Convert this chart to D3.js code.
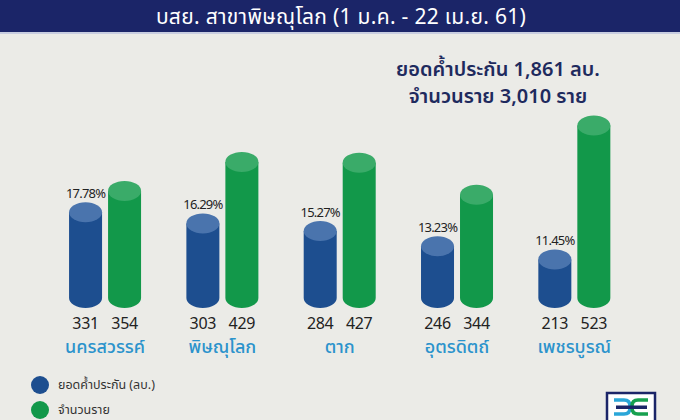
<!DOCTYPE html>
<html>
<head>
<meta charset="utf-8">
<script src="https://cdn.jsdelivr.net/npm/d3@7/dist/d3.min.js"></script>
<style>
  html, body { margin: 0; padding: 0; background: #ebebe7; }
  svg { display: block; font-family: "Noto Sans Thai", "Noto Sans", "Noto Sans CJK SC", sans-serif; }
</style>
</head>
<body>
<svg id="chart" width="680" height="420"></svg>
<script>
// ---- data ----
const categories = ["นครสวรรค์", "พิษณุโลก", "ตาก", "อุตรดิตถ์", "เพชรบูรณ์"];
const guaranteeValues = [331, 303, 284, 246, 213];   // ยอดค้ำประกัน (ลบ.)
const clientValues = [354, 429, 427, 344, 523];      // จำนวนราย
const shareLabels = ["17.78%", "16.29%", "15.27%", "13.23%", "11.45%"];
const seriesNames = ["ยอดค้ำประกัน (ลบ.)", "จำนวนราย"];
const titleText = "บสย. สาขาพิษณุโลก (1 ม.ค. - 22 เม.ย. 61)";
const summaryLines = ["ยอดค้ำประกัน 1,861 ลบ.", "จำนวนราย 3,010 ราย"];

// ---- styles ----
const W = 680, H = 420;
const bg = "#ebebe7";
const colors = [
  { body: "#1d4e8f", cap: "#4a74ad" },
  { body: "#12984a", cap: "#3aab69" }
];
const baseY = 308;
const ry = 10;

const svg = d3.select("#chart");
svg.append("rect").attr("width", W).attr("height", H).attr("fill", bg);

// header
svg.append("rect").attr("x", 0).attr("y", 0).attr("width", W).attr("height", 32).attr("fill", "#1b2568");
svg.append("rect").attr("x", 0).attr("y", 32).attr("width", W).attr("height", 2).attr("fill", "#c8cde0");
svg.append("text").attr("x", 341).attr("y", 24).attr("text-anchor", "middle")
  .attr("fill", "#ffffff").attr("font-size", 21).attr("letter-spacing", 0.3).text(titleText);

// summary
svg.append("g").selectAll("text").data(summaryLines).join("text")
  .attr("x", (d, i) => i === 0 ? 498 : 498)
  .attr("y", (d, i) => 76 + i * 27)
  .attr("text-anchor", "middle").attr("fill", "#1e2a5e")
  .attr("font-size", 20).attr("font-weight", 600).text(d => d);

// scales
const x0 = d3.scaleBand().domain(categories).range([46.4, 633]).padding(0);
const x1 = d3.scaleBand().domain([0, 1]).range([-36, 36]).paddingInner(0.154).paddingOuter(0);
const yBlue = d3.scaleLinear().domain([0, 600]).range([baseY + 26.6, baseY + 26.6 - 240]);
const yGreen = d3.scaleLinear().domain([0, 600]).range([baseY + 9.9, baseY + 9.9 - 232.2]);

const rows = categories.map((c, i) => ({ cat: c, vals: [guaranteeValues[i], clientValues[i]], share: shareLabels[i] }));

function cylinder(g, left, w, top) {
  const r = w / 2;
  g.append("path")
    .attr("d", `M${left},${top + ry} L${left},${baseY - ry} A${r},${ry} 0 0 0 ${left + w},${baseY - ry} L${left + w},${top + ry} Z`);
}

const groups = svg.append("g").selectAll("g").data(rows).join("g")
  .attr("transform", d => `translate(${x0(d.cat) + x0.bandwidth() / 2},0)`);

groups.each(function (d) {
  const g = d3.select(this);
  d.vals.forEach((v, s) => {
    const left = x1(s);
    const w = x1.bandwidth();
    const top = s === 0 ? yBlue(v) : yGreen(v);
    const bar = g.append("g");
    cylinder(bar, left, w, top);
    bar.select("path").attr("fill", colors[s].body);
    bar.append("ellipse").attr("cx", left + w / 2).attr("cy", top + ry)
      .attr("rx", w / 2).attr("ry", ry).attr("fill", colors[s].cap);
    g.append("text").attr("x", left + w / 2).attr("y", 329).attr("text-anchor", "middle")
      .attr("fill", "#222").attr("font-size", 16).attr("letter-spacing", -0.3).text(v);
    if (s === 0) {
      g.append("text").attr("x", left + w / 2).attr("y", top - 4).attr("text-anchor", "middle")
        .attr("fill", "#222").attr("font-size", 13).attr("letter-spacing", -0.8).text(d.share);
    }
  });
  g.append("text").attr("x", 0).attr("y", 353).attr("text-anchor", "middle")
    .attr("fill", "#2b93cc").attr("font-size", 18).attr("font-weight", 500).text(d.cat);
});

// legend
const leg = svg.append("g").selectAll("g").data(seriesNames).join("g")
  .attr("transform", (d, i) => `translate(40,${385 + i * 25})`);
leg.append("circle").attr("r", 9).attr("fill", (d, i) => colors[i].body);
leg.append("text").attr("x", 18).attr("y", 4).attr("fill", "#333").attr("font-size", 12.5).text(d => d);

// logo
const logo = svg.append("g").attr("transform", "translate(607,393)");
logo.append("rect").attr("width", 48).attr("height", 32).attr("fill", "#fff")
  .attr("stroke", "#1b2568").attr("stroke-width", 2.5);
logo.append("path").attr("d", "M7,7 H17 Q23,7 23,13 V15 Q23,21 17,21 H7")
  .attr("fill", "none").attr("stroke", "#2aa6d8").attr("stroke-width", 3.5);
logo.append("path").attr("d", "M41,7 H31 Q25,7 25,13 V15 Q25,21 31,21 H41")
  .attr("fill", "none").attr("stroke", "#17a04f").attr("stroke-width", 3.5);
logo.append("rect").attr("x", 9).attr("y", 12.5).attr("width", 31).attr("height", 3.5).attr("fill", "#1b2568");
</script>
</body>
</html>
